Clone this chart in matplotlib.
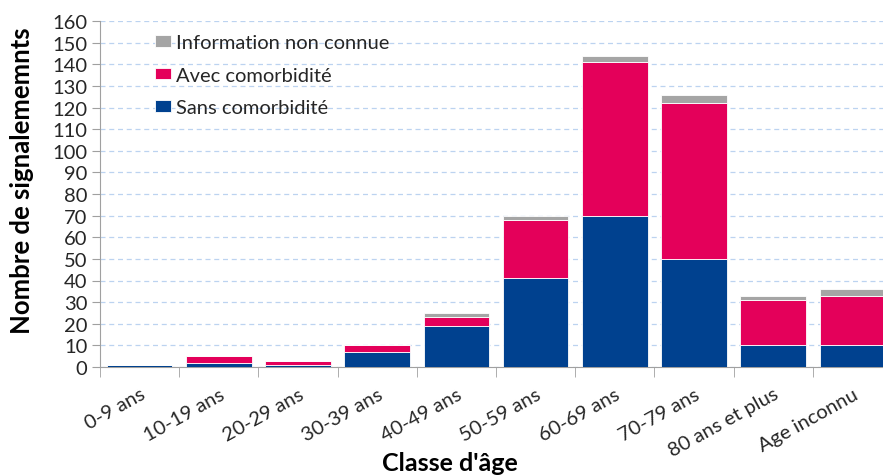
import numpy as np
import matplotlib.pyplot as plt

plt.rcParams['font.family'] = ['Lato', 'DejaVu Sans']

categories = ['0-9 ans', '10-19 ans', '20-29 ans', '30-39 ans', '40-49 ans',
              '50-59 ans', '60-69 ans', '70-79 ans', '80 ans et plus', 'Age inconnu']
sans_comorb = [1, 2, 1, 7, 19, 41, 70, 50, 10, 10]
avec_comorb = [0, 3, 2, 3, 4, 27, 71, 72, 21, 23]
info_inconnue = [0, 0, 0, 0, 2, 2, 3, 4, 2, 3]
y_ticks = list(range(0, 161, 10))

c_blue = '#00418f'
c_red = '#e4005a'
c_gray = '#a5a5a5'
txt = '#262626'

fig = plt.figure(figsize=(8.83, 4.77), dpi=100)
ax = fig.add_axes([100 / 883, 109 / 477, 792 / 883, 346 / 477])

x = np.arange(len(categories))
w = 0.83
s = np.array(sans_comorb)
a = np.array(avec_comorb)
g = np.array(info_inconnue)

ax.bar(x, s, w, color=c_blue, edgecolor='white', linewidth=0.6,
       label='Sans comorbidité', zorder=3)
ax.bar(x, a, w, bottom=s, color=c_red, edgecolor='white', linewidth=0.6,
       label='Avec comorbidité', zorder=3)
ax.bar(x, g, w, bottom=s + a, color=c_gray, edgecolor='white', linewidth=0.6,
       label='Information non connue', zorder=3)

ax.set_xlim(-0.5, len(categories) - 0.5)
ax.set_ylim(0, 160)
ax.set_yticks(y_ticks)
ax.tick_params(axis='y', labelsize=14.5, length=6, color='#a0a0a0', pad=3, labelcolor=txt)

ax.set_xticks(x)
ax.set_xticklabels(categories, rotation=29, ha='right', rotation_mode='anchor',
                   fontsize=14.5, color=txt)
ax.set_xticks(np.arange(len(categories) + 1) - 0.5, minor=True)
ax.tick_params(axis='x', which='major', length=0, pad=13)
ax.tick_params(axis='x', which='minor', length=7, color='#a0a0a0')

ax.grid(axis='y', color='#bcd3f0', linestyle=(0, (4, 3)), linewidth=0.9, zorder=0)
for side in ['top', 'right']:
    ax.spines[side].set_visible(False)
for side in ['left', 'bottom']:
    ax.spines[side].set_color('#a0a0a0')

ax.set_ylabel('Nombre de signalememnts', fontsize=18.5, fontweight='bold', color='black')
ax.yaxis.set_label_coords(-0.083, 0.54)
ax.set_xlabel("Classe d'âge", fontsize=18, fontweight='bold', color='black')
ax.xaxis.set_label_coords(0.442, -0.243)

handles, labels = ax.get_legend_handles_labels()
ax.legend(handles[::-1], labels[::-1], loc='upper left', bbox_to_anchor=(0.046, 1.015),
          frameon=False, fontsize=14.5, handlelength=0.8, handleheight=0.5,
          handletextpad=0.25, labelspacing=0.78, labelcolor=txt)

fig.savefig('out.png', dpi=100)
